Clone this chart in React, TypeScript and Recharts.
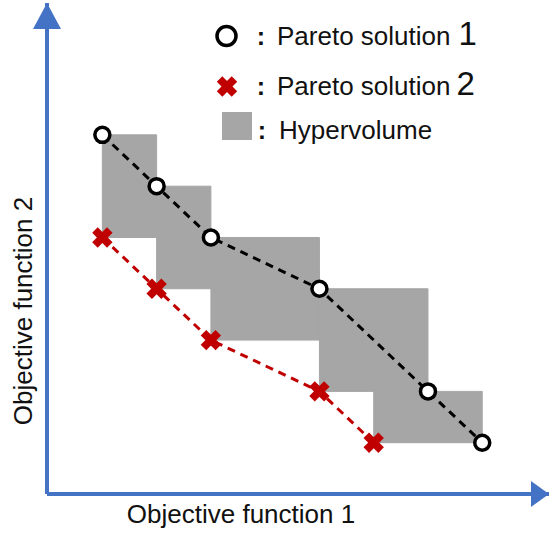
import {
  LineChart,
  Line,
  XAxis,
  YAxis,
  ReferenceArea,
  ReferenceDot,
  Legend,
  Label,
} from "recharts"

// grid units
const pareto1X = [1, 2, 3, 5, 7, 8]
const pareto1Y = [7, 6, 5, 4, 2, 1]
const pareto2X = [1, 2, 3, 5, 6]
const pareto2Y = [5, 4, 3, 2, 1]

// hypervolume boxes (x1..x2, y1..y2)
const hvX1 = [1, 2, 3, 5, 6]
const hvX2 = [2, 3, 5, 7, 8]
const hvY1 = [5, 4, 3, 2, 1]
const hvY2 = [7, 6, 5, 4, 2]

const X_DOMAIN = [-0.02, 9.23]
const Y_DOMAIN = [0, 9.57]

const AXIS_BLUE = "#4472c4"
const RED = "#c00000"
const GRAY = "#a6a6a6"
const FONT = "'Liberation Sans', Arial, sans-serif"

const pareto1 = pareto1X.map((x, i) => ({ x, y: pareto1Y[i] }))
const pareto2 = pareto2X.map((x, i) => ({ x, y: pareto2Y[i] }))

function CircleMark({ cx, cy, r = 7.5 }: { cx: number; cy: number; r?: number }) {
  return <circle cx={cx} cy={cy} r={r} fill="#fff" stroke="#000" strokeWidth={3.5} />
}

function CrossMark({ cx, cy }: { cx: number; cy: number }) {
  return (
    <g transform={`translate(${cx},${cy}) rotate(45)`} fill={RED}>
      <rect x={-10.5} y={-3.9} width={21} height={7.8} />
      <rect x={-3.9} y={-10.5} width={7.8} height={21} />
    </g>
  )
}

function LegendBox() {
  return (
    <svg width={550} height={160} style={{ display: "block", fontFamily: FONT }}>
      <CircleMark cx={226.5} cy={36} r={9.5} />
      <text x={261} y={44.5} fontSize={25} fontWeight="bold" textAnchor="middle" fill="#111">:</text>
      <text x={277} y={44.5} fontSize={26} fill="#111">
        Pareto solution<tspan fontSize={33} dx={8}>1</tspan>
      </text>

      <CrossMark cx={227} cy={86.5} />
      <text x={261} y={95} fontSize={25} fontWeight="bold" textAnchor="middle" fill="#111">:</text>
      <text x={277} y={95} fontSize={26} fill="#111">
        Pareto solution<tspan fontSize={33} dx={6}>2</tspan>
      </text>

      <rect x={222} y={112} width={30} height={28} fill={GRAY} />
      <text x={262} y={138.5} fontSize={25} fontWeight="bold" textAnchor="middle" fill="#111">:</text>
      <text x={279} y={138.5} fontSize={26} fill="#111">Hypervolume</text>
    </svg>
  )
}

const upArrow = (props: any) => {
  const { cx, cy } = props
  return <polygon points={`${cx},${cy} ${cx - 14},${cy + 26} ${cx + 14},${cy + 26}`} fill={AXIS_BLUE} />
}

const rightArrow = (props: any) => {
  const { cx, cy } = props
  return <polygon points={`${cx},${cy} ${cx - 18},${cy - 13} ${cx - 18},${cy + 13}`} fill={AXIS_BLUE} />
}

export default function App() {
  return (
    <div style={{ position: "absolute", left: 0, top: 0, background: "#fff" }}>
      <LineChart
        width={550}
        height={533}
        margin={{ top: 3, right: 1, left: 46, bottom: 38 }}
        style={{ fontFamily: FONT }}
      >
        <XAxis
          type="number"
          dataKey="x"
          domain={X_DOMAIN}
          allowDataOverflow
          height={1}
          tick={false}
          tickLine={false}
          axisLine={{ stroke: AXIS_BLUE, strokeWidth: 4 }}
        >
          <Label
            value="Objective function 1"
            position="center"
            dx={-57}
            dy={19.5}
            fontSize={26}
            fill="#111"
          />
        </XAxis>
        <YAxis
          type="number"
          dataKey="y"
          domain={Y_DOMAIN}
          allowDataOverflow
          width={1}
          tick={false}
          tickLine={false}
          axisLine={{ stroke: AXIS_BLUE, strokeWidth: 4 }}
        >
          <Label
            value="Objective function 2"
            position="center"
            angle={-90}
            dx={-24}
            dy={62.5}
            fontSize={26}
            fill="#111"
          />
        </YAxis>

        {hvX1.map((x1, i) => (
          <ReferenceArea
            key={`hv-${i}`}
            x1={x1}
            x2={hvX2[i]}
            y1={hvY1[i]}
            y2={hvY2[i]}
            fill={GRAY}
            fillOpacity={1}
            stroke={GRAY}
            strokeWidth={1}
            ifOverflow="visible"
          />
        ))}

        <ReferenceDot x={X_DOMAIN[0]} y={Y_DOMAIN[1]} ifOverflow="visible" shape={upArrow} />
        <ReferenceDot x={X_DOMAIN[1]} y={Y_DOMAIN[0]} ifOverflow="visible" shape={rightArrow} />

        <Line
          data={pareto2}
          dataKey="y"
          type="linear"
          stroke={RED}
          strokeWidth={3}
          strokeDasharray="8 6"
          isAnimationActive={false}
          dot={(p: any) => <CrossMark key={`p2-${p.index}`} cx={p.cx} cy={p.cy} />}
          activeDot={false}
        />
        <Line
          data={pareto1}
          dataKey="y"
          type="linear"
          stroke="#000"
          strokeWidth={3}
          strokeDasharray="8 6"
          isAnimationActive={false}
          dot={(p: any) => <CircleMark key={`p1-${p.index}`} cx={p.cx} cy={p.cy} />}
          activeDot={false}
        />

        <Legend
          layout="vertical"
          align="center"
          verticalAlign="middle"
          wrapperStyle={{ left: 0, top: 0, width: 550, height: 160 }}
          content={() => <LegendBox />}
        />
      </LineChart>
    </div>
  )
}
